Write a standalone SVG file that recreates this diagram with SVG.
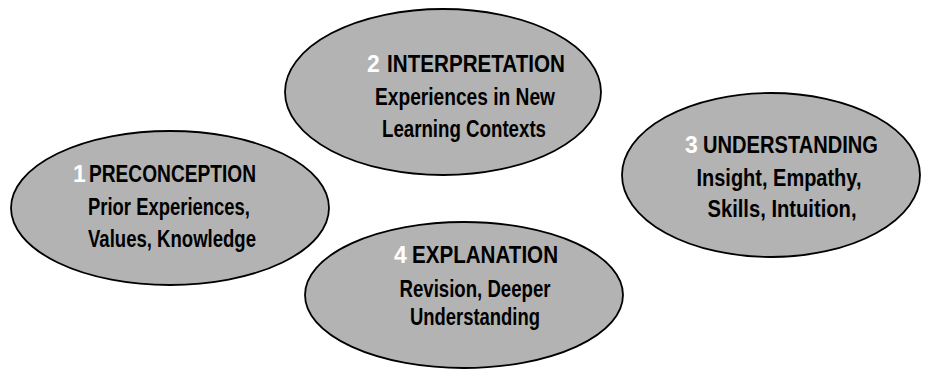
<svg xmlns="http://www.w3.org/2000/svg" width="925" height="371" viewBox="0 0 925 371">
<style>
.node ellipse{fill:#b3b3b3;stroke:#000;stroke-width:1.8}
.node text{font-family:"Liberation Sans","DejaVu Sans",sans-serif;font-weight:bold;font-size:23px;fill:#000;text-anchor:middle}
.node text.s{text-anchor:start}
.node text.num{fill:#fff;text-anchor:start}
</style>
<rect width="925" height="371" fill="#fff"/>
<g id="connectors"/>
<g id="node1" class="node">
<ellipse cx="170" cy="208" rx="159" ry="77"/>
<text class="num" x="73" y="182">1</text>
<text class="s" x="89" y="182" textLength="167" lengthAdjust="spacingAndGlyphs">PRECONCEPTION</text>
<text x="169" y="215" textLength="162" lengthAdjust="spacingAndGlyphs">Prior Experiences,</text>
<text x="172" y="247" textLength="168" lengthAdjust="spacingAndGlyphs">Values, Knowledge</text>
</g>
<g id="node2" class="node">
<ellipse cx="443" cy="92" rx="158" ry="83"/>
<text class="num" x="367" y="72">2</text>
<text class="s" x="387" y="72" textLength="178" lengthAdjust="spacingAndGlyphs">INTERPRETATION</text>
<text x="465" y="105" textLength="180" lengthAdjust="spacingAndGlyphs">Experiences in New</text>
<text x="464" y="137" textLength="164" lengthAdjust="spacingAndGlyphs">Learning Contexts</text>
</g>
<g id="node3" class="node">
<ellipse cx="771" cy="175" rx="149" ry="82"/>
<text class="num" x="685" y="153">3</text>
<text class="s" x="703" y="153" textLength="175" lengthAdjust="spacingAndGlyphs">UNDERSTANDING</text>
<text x="779" y="186" textLength="165" lengthAdjust="spacingAndGlyphs">Insight, Empathy,</text>
<text x="782" y="217" textLength="149" lengthAdjust="spacingAndGlyphs">Skills, Intuition,</text>
</g>
<g id="node4" class="node">
<ellipse cx="464" cy="295" rx="159" ry="73"/>
<text class="num" x="394" y="263">4</text>
<text class="s" x="412" y="263" textLength="146" lengthAdjust="spacingAndGlyphs">EXPLANATION</text>
<text x="475" y="297" textLength="151" lengthAdjust="spacingAndGlyphs">Revision, Deeper</text>
<text x="475" y="325" textLength="130" lengthAdjust="spacingAndGlyphs">Understanding</text>
</g>
</svg>
